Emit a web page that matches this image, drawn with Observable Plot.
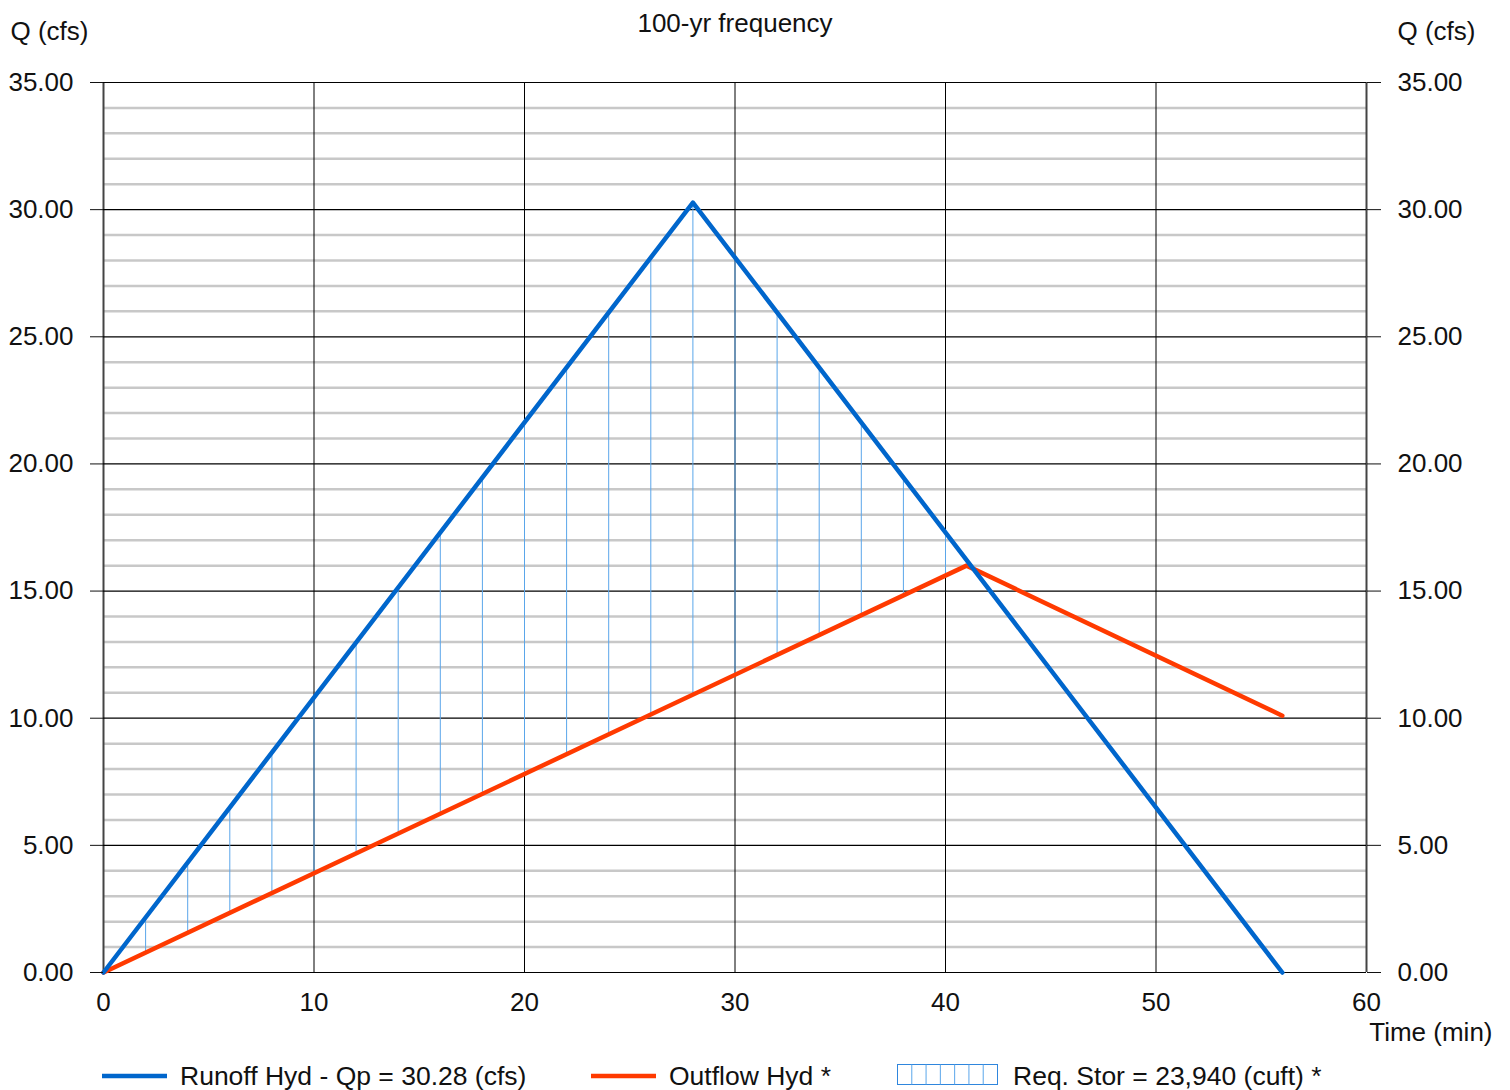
<!DOCTYPE html>
<html>
<head>
<meta charset="utf-8">
<script src="https://cdn.jsdelivr.net/npm/d3@7"></script>
<script src="https://cdn.jsdelivr.net/npm/@observablehq/plot@0.6"></script>
<style>
  body { margin: 0; background: #fff; font-family: "Liberation Sans", Arial, sans-serif; }
  #wrap { position: relative; width: 1510px; height: 1090px; }
  #legend { position: absolute; left: 0; top: 1050px; width: 1510px; height: 40px; font-size: 26.5px; color: #111; }
  .item { position: absolute; top: 0; height: 40px; }
  .lbl { position: absolute; top: 11px; white-space: nowrap; line-height: 30px; }
</style>
</head>
<body>
<div id="wrap">
  <div id="chart"></div>
  <div id="legend"></div>
</div>
<script>
// ---- data ----
const runoffTime = [0, 28, 56];
const runoffQ = [0, 30.28, 0];
const outflowTime = [0, 41, 56];
const outflowQ = [0, 16.0, 10.1];
const hatchTime = [2, 4, 6, 8, 10, 12, 14, 16, 18, 20, 22, 24, 26, 28, 30, 32, 34, 36, 38, 40];
const hatchTop = [2.16, 4.33, 6.49, 8.65, 10.81, 12.98, 15.14, 17.30, 19.47, 21.63, 23.79, 25.95, 28.12, 30.28, 28.12, 25.95, 23.79, 21.63, 19.47, 17.30];
const hatchBottom = [0.78, 1.56, 2.34, 3.12, 3.90, 4.68, 5.46, 6.24, 7.02, 7.80, 8.59, 9.37, 10.15, 10.93, 11.71, 12.49, 13.27, 14.05, 14.83, 15.61];
const xTicks = [0, 10, 20, 30, 40, 50, 60];
const yMajor = [0, 5, 10, 15, 20, 25, 30, 35];
const yMinor = [1,2,3,4,6,7,8,9,11,12,13,14,16,17,18,19,21,22,23,24,26,27,28,29,31,32,33,34];
const title = "100-yr frequency";
const yLabel = "Q (cfs)";
const xLabel = "Time (min)";
const legendLabels = ["Runoff Hyd - Qp = 30.28 (cfs)", "Outflow Hyd *", "Req. Stor = 23,940 (cuft) *"];

const blue = "#0066cc";
const orange = "#ff3a00";
const hatchColor = "#5aa6ea";

const runoff = runoffTime.map((t, i) => ({t, q: runoffQ[i]}));
const outflow = outflowTime.map((t, i) => ({t, q: outflowQ[i]}));
const hatch = hatchTime.map((t, i) => ({t, hi: hatchTop[i], lo: hatchBottom[i]}));

const fmt = d => d.toFixed(2);
const FS = 26;

const chart = Plot.plot({
  width: 1510,
  height: 1050,
  marginLeft: 103,
  marginRight: 144,
  marginTop: 82,
  marginBottom: 78,
  style: { fontFamily: "'Liberation Sans', Arial, sans-serif", fontSize: FS + "px", color: "#111", background: "#fff" },
  x: { domain: [0, 60] },
  y: { domain: [0, 35] },
  marks: [
    Plot.ruleY(yMinor, { stroke: "#c8c8c8", strokeWidth: 2.5 }),
    Plot.ruleX(xTicks, { stroke: "#000", strokeWidth: 1 }),
    Plot.ruleX([0, 60], { stroke: "#444", strokeWidth: 2 }),
    Plot.ruleY(yMajor, { stroke: "#000", strokeWidth: 1.2 }),
    Plot.ruleX(hatch, { x: "t", y1: "lo", y2: "hi", stroke: hatchColor, strokeWidth: 1 }),
    Plot.line(outflow, { x: "t", y: "q", stroke: orange, strokeWidth: 4.5 }),
    Plot.line(runoff, { x: "t", y: "q", stroke: blue, strokeWidth: 4.5 }),
    Plot.axisY({ anchor: "left", ticks: yMajor, tickFormat: fmt, tickSize: 13, tickPadding: 17, label: null, fontSize: FS }),
    Plot.axisY({ anchor: "right", ticks: yMajor, tickFormat: fmt, tickSize: 14, tickPadding: 17, label: null, fontSize: FS }),
    Plot.axisX({ ticks: xTicks, tickSize: 0, tickPadding: 20, label: null, fontSize: FS, tickFormat: d => String(d) }),
    Plot.text([title], { frameAnchor: "top", lineAnchor: "middle", textAnchor: "middle", dy: -59, fontSize: FS, fill: "#111" }),
    Plot.text([yLabel], { frameAnchor: "top-left", lineAnchor: "middle", textAnchor: "start", dx: -93, dy: -51, fontSize: FS, fill: "#111" }),
    Plot.text([yLabel], { frameAnchor: "top-right", lineAnchor: "middle", textAnchor: "start", dx: 31, dy: -51, fontSize: FS, fill: "#111" }),
    Plot.text([xLabel], { frameAnchor: "bottom-right", lineAnchor: "middle", textAnchor: "end", dx: 126, dy: 60, fontSize: FS, fill: "#111" })
  ]
});
document.getElementById("chart").appendChild(chart);

// ---- legend ----
const legend = d3.select("#legend");
function lineItem(x, color, label) {
  const g = legend.append("div").attr("class", "item").style("left", x + "px").style("width", "600px");
  g.append("svg").attr("width", 70).attr("height", 40).style("position", "absolute").style("left", "0px").style("top", "0px")
    .append("line").attr("x1", 1).attr("x2", 66).attr("y1", 26).attr("y2", 26).attr("stroke", color).attr("stroke-width", 4.5);
  g.append("div").attr("class", "lbl").style("left", "79px").text(label);
}
lineItem(101, blue, legendLabels[0]);
lineItem(590, orange, legendLabels[1]);
{
  const g = legend.append("div").attr("class", "item").style("left", "896px").style("width", "600px");
  const s = g.append("svg").attr("width", 104).attr("height", 40).style("position", "absolute").style("left", "0px").style("top", "0px");
  s.append("rect").attr("x", 1.5).attr("y", 14.5).attr("width", 100).attr("height", 20).attr("fill", "#fff").attr("stroke", "#2f86dd").attr("stroke-width", 1);
  d3.range(1, 7).forEach(i => {
    s.append("line").attr("x1", 1.5 + i * 100 / 7).attr("x2", 1.5 + i * 100 / 7).attr("y1", 14.5).attr("y2", 34.5).attr("stroke", hatchColor).attr("stroke-width", 1);
  });
  g.append("div").attr("class", "lbl").style("left", "117px").text(legendLabels[2]);
}
</script>
</body>
</html>
